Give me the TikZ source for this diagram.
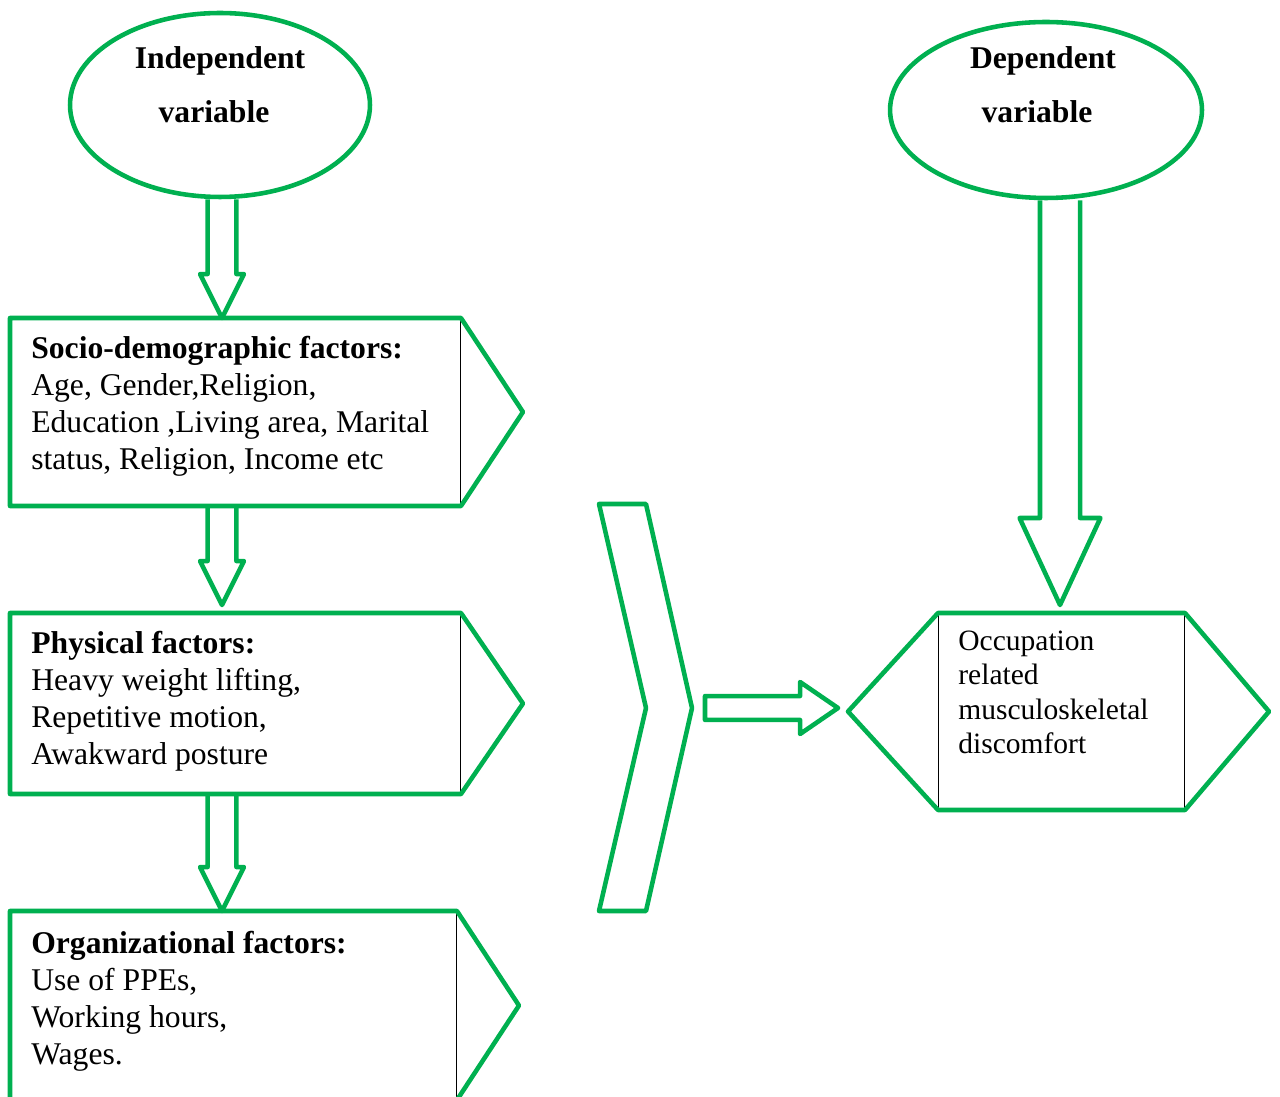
\documentclass[tikz,border=0pt]{standalone}
\usepackage{fontspec}
\setmainfont{Liberation Serif}
\usetikzlibrary{calc, shapes.geometric}

\definecolor{framegreen}{RGB}{0,176,80}

% block arrows: start, end, shaft half width, head half width, head length
\newcommand{\downblock}[5]{%
  \draw[gline] let \p1=(#1), \p2=(#2) in
    (\x1-#3,\y1) -- (\x1-#3,\y2+#5) -- (\x1-#4,\y2+#5) -- (\x1,\y2)
    -- (\x1+#4,\y2+#5) -- (\x1+#3,\y2+#5) -- (\x1+#3,\y1);
}
\newcommand{\rightblock}[5]{%
  \draw[gline] let \p1=(#1), \p2=(#2) in
    (\x1,\y1+#3) -- (\x2-#5,\y1+#3) -- (\x2-#5,\y1+#4) -- (\x2,\y1)
    -- (\x2-#5,\y1-#4) -- (\x2-#5,\y1-#3) -- (\x1,\y1-#3) -- cycle;
}

\tikzset{
  gline/.style={draw=framegreen, line width=2.6pt, line join=round},
  varoval/.style={ellipse, gline, inner sep=0pt},
  ovaltext/.style={align=center, inner sep=0pt, font=\bfseries\fontsize{18}{30.7}\selectfont},
  factorbox/.style={draw=black, line width=0.6pt, anchor=north west, inner sep=0pt},
  factortext/.style={anchor=north west, align=left, inner sep=0pt, font=\fontsize{18}{21}\selectfont},
  outcometext/.style={anchor=north west, align=left, inner sep=0pt, font=\fontsize{16.8}{19.4}\selectfont},
}

\begin{document}
\begin{tikzpicture}[x=0.02cm, y=-0.02cm]
  \useasboundingbox (0,0) rectangle (1280,1097);

  % variables
  \node[varoval, minimum width=6cm, minimum height=3.68cm] (ivar) at (220,105) {};
  \node[ovaltext] (ivartext) at ($(ivar.center)+(0,-20)$) {Independent\\variable\hspace*{0.24cm}};
  \node[varoval, minimum width=6.24cm, minimum height=3.52cm] (dvar) at (1046,110) {};
  \node[ovaltext] (dvartext) at ($(dvar.center)+(-3,-25)$) {Dependent\\variable\hspace*{0.24cm}};

  % factor boxes
  \node[factorbox, minimum width=9cm, minimum height=3.74cm] (socio) at (10,318) {};
  \node[factorbox, minimum width=9cm, minimum height=3.6cm] (phys) at (10,613) {};
  \node[factorbox, minimum width=8.92cm, minimum height=3.76cm] (org) at (10,911) {};
  \foreach \b in {socio, phys, org}
    \draw[gline] (\b.north west) -- (\b.north east) -- ($(\b.east)+(62,0)$)
      -- (\b.south east) -- (\b.south west) -- cycle;

  \node[factortext] (sociotext) at (31,336)
    {\textbf{Socio-demographic factors:}\\Age, Gender,Religion,\\Education ,Living area, Marital\\status, Religion, Income etc};
  \node[factortext] (phystext) at (31,631)
    {\textbf{Physical factors:}\\Heavy weight lifting,\\Repetitive motion,\\Awakward posture};
  \node[factortext] (orgtext) at (31,931)
    {\textbf{Organizational factors:}\\Use of PPEs,\\Working hours,\\Wages.};

  % outcome
  \node[factorbox, minimum width=4.92cm, minimum height=3.92cm] (outcome) at (938,613) {};
  \coordinate (hexleft) at ($(outcome.west)+(-90,0)$);
  \draw[gline] (outcome.north west) -- (outcome.north east) -- ($(outcome.east)+(84,0)$)
    -- (outcome.south east) -- (outcome.south west) -- (hexleft) -- cycle;
  \node[outcometext] (outcometext) at (958,631)
    {Occupation\\related\\musculoskeletal\\discomfort};

  % chevron
  \coordinate (chevtip) at (692,708);
  \draw[gline] (599,504) -- (646,504) -- (chevtip) -- (646,911) -- (599,911) -- (646,708) -- cycle;

  % arrows
  \downblock{$(ivar.south)+(2,0)$}{socio.north}{8.2pt}{12.5pt}{25pt}
  \downblock{$(socio.south west)+(212,0)$}{$(phys.north)+(0,-8)$}{8.2pt}{12.5pt}{25pt}
  \downblock{$(phys.south west)+(212,0)$}{org.north}{8.2pt}{12.5pt}{25pt}
  \downblock{$(dvar.south)+(14,0)$}{$(outcome.north)+(0,-8)$}{11.4pt}{23pt}{49.5pt}
  \rightblock{$(chevtip)+(13,0)$}{$(hexleft)+(-10,0)$}{6.8pt}{14.8pt}{21.6pt}
\end{tikzpicture}
\end{document}
